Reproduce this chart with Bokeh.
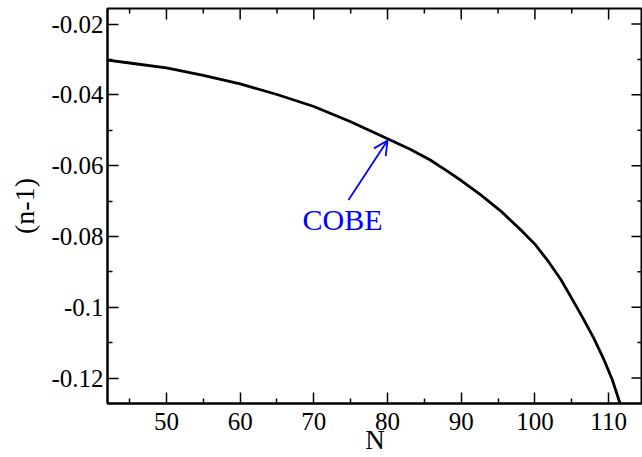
from bokeh.plotting import figure
from bokeh.models import FixedTicker, Label, Arrow, OpenHead, Range1d, ColumnDataSource
from bokeh.embed import file_html
from bokeh.resources import INLINE

# ---- data ----
N_vals = [42, 45, 50, 55, 60, 65, 70, 75, 80, 83, 85.8, 88, 90, 92.6, 95.3, 98, 100,
          101.8, 103.5, 105, 106.5, 108, 109.3, 110.5, 111.6]
n_minus_1 = [-0.0302, -0.0310, -0.0324, -0.0345, -0.0369, -0.0399, -0.0433, -0.0476,
             -0.0524, -0.0553, -0.0584, -0.0614, -0.0642, -0.0682, -0.0727, -0.0780,
             -0.0822, -0.0870, -0.0921, -0.0975, -0.1030, -0.1088, -0.1145, -0.1205,
             -0.1275]

x_lim = (42, 114.6)
y_lim = (-0.1272, -0.0156)
x_major = [50, 60, 70, 80, 90, 100, 110]
x_minor = [45, 55, 65, 75, 85, 95, 105]
y_major = [-0.12, -0.10, -0.08, -0.06, -0.04, -0.02]
y_minor = [-0.11, -0.09, -0.07, -0.05, -0.03]
y_labels = ["-0.12", "-0.1", "-0.08", "-0.06", "-0.04", "-0.02"]
x_title = "N"
y_title = "(n-1)"

annot_text = "COBE"
annot_pos = (73.9, -0.0753)
arrow_tail = (74.7, -0.0697)
arrow_head = (80.0, -0.0529)

FONT = "serif"

p = figure(width=642, height=457, output_backend="svg", toolbar_location=None,
           x_range=Range1d(*x_lim), y_range=Range1d(*y_lim),
           min_border_left=107, min_border_right=0, min_border_top=8, min_border_bottom=52)
p.xgrid.visible = False
p.ygrid.visible = False
p.outline_line_color = "black"
p.outline_line_width = 2
p.background_fill_color = "white"
p.border_fill_color = "white"

src = ColumnDataSource(dict(x=N_vals, y=n_minus_1))
p.line("x", "y", source=src, line_color="black", line_width=2.8)

def style(ax):
    ax.axis_line_color = "black"
    ax.axis_line_width = 2
    ax.major_tick_in = 11
    ax.major_tick_out = 0
    ax.minor_tick_in = 5
    ax.minor_tick_out = 0
    ax.major_tick_line_color = "black"
    ax.minor_tick_line_color = "black"
    ax.major_tick_line_width = 1.5
    ax.minor_tick_line_width = 1.5
    ax.major_label_text_font = FONT
    ax.major_label_text_font_size = "25px"
    ax.major_label_text_color = "black"
    ax.axis_label_text_font = FONT
    ax.axis_label_text_font_size = "28px"
    ax.axis_label_text_font_style = "normal"
    ax.axis_label_text_color = "black"

xa = p.xaxis[0]
xa.ticker = FixedTicker(ticks=x_major, minor_ticks=x_minor)
xa.axis_label = x_title
style(xa)
xa.axis_label_text_font_size = "27px"
xa.major_label_standoff = 9
xa.axis_label_standoff = -8

ya = p.yaxis[0]
ya.ticker = FixedTicker(ticks=y_major, minor_ticks=y_minor)
ya.axis_label = y_title
ya.major_label_standoff = 4
ya.axis_label_standoff = 8
ya.major_label_overrides = {v: s for v, s in zip(y_major, y_labels)}
style(ya)

# mirrored inward ticks on the top and right edges
p.ray(x=x_major, y=[y_lim[1]] * len(x_major), length=11, length_units="screen",
      angle=-90, angle_units="deg", line_color="black", line_width=1.5)
p.ray(x=x_minor, y=[y_lim[1]] * len(x_minor), length=5, length_units="screen",
      angle=-90, angle_units="deg", line_color="black", line_width=1.5)
p.ray(x=[x_lim[1]] * len(y_major), y=y_major, length=11, length_units="screen",
      angle=180, angle_units="deg", line_color="black", line_width=1.5)
p.ray(x=[x_lim[1]] * len(y_minor), y=y_minor, length=5, length_units="screen",
      angle=180, angle_units="deg", line_color="black", line_width=1.5)

p.add_layout(Arrow(end=OpenHead(size=14, line_color="blue", line_width=1.8),
                   x_start=arrow_tail[0], y_start=arrow_tail[1],
                   x_end=arrow_head[0], y_end=arrow_head[1],
                   line_color="blue", line_width=1.8))
p.add_layout(Label(x=annot_pos[0], y=annot_pos[1], text=annot_text,
                   text_font=FONT, text_font_size="30px", text_color="blue",
                   text_align="center", text_baseline="middle"))

open("out.html", "w").write(file_html(p, INLINE))
